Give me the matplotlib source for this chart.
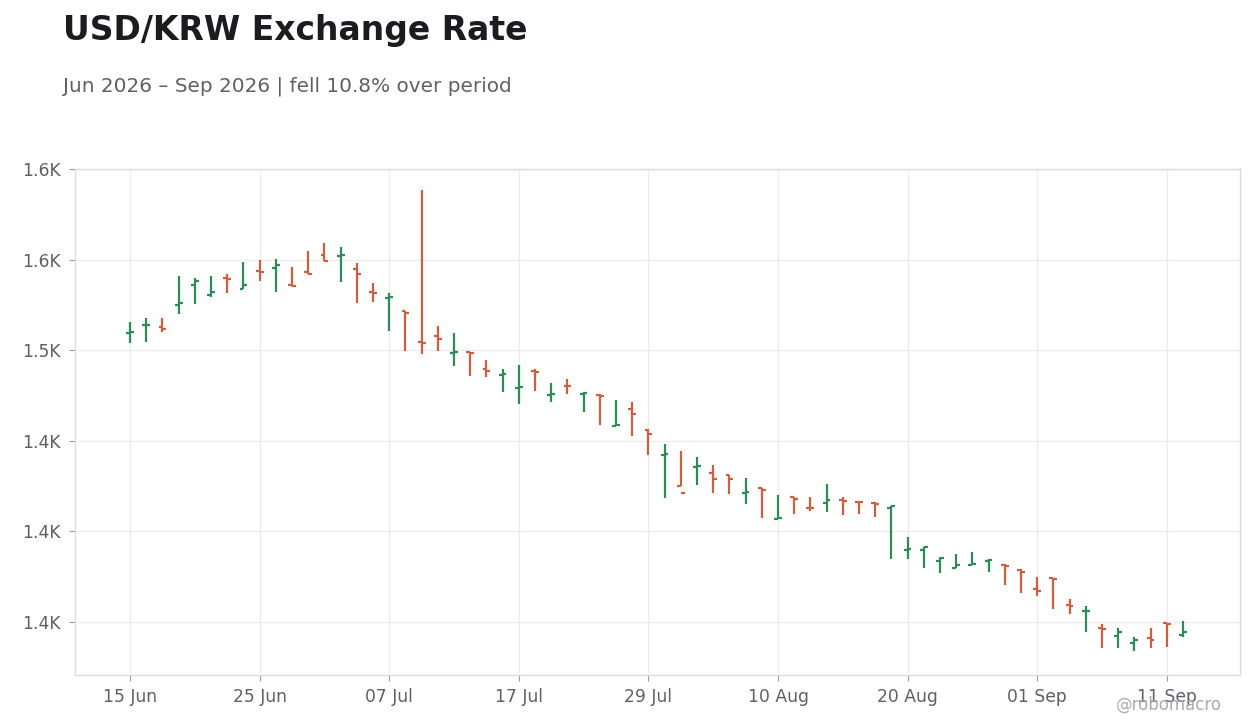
import numpy as np
import pandas as pd
import matplotlib
matplotlib.use("Agg")
import matplotlib.pyplot as plt
import matplotlib.ticker as mtick

# daily OHLC, business days from 15 Jun 2026
dates = pd.bdate_range("2026-06-15", periods=66)

opens = [1509.8, 1513.8, 1512.9, 1525.0, 1535.9, 1530.4, 1540.1, 1533.7, 1543.8, 1545.5,
         1536.0, 1543.3, 1552.7, 1552.1, 1544.9, 1532.2, 1528.9, 1521.7, 1504.6, 1507.9,
         1498.5, 1499.0, 1489.7, 1486.5, 1479.4, 1488.6, 1475.5, 1480.5, 1476.0, 1475.3,
         1458.0, 1467.6, 1456.0, 1442.2, 1425.0, 1435.4, 1432.2, 1431.1, 1421.1, 1424.1,
         1407.0, 1419.0, 1413.1, 1415.6, 1417.4, 1416.4, 1415.9, 1412.9, 1389.7, 1389.9,
         1383.6, 1379.6, 1381.6, 1383.8, 1381.6, 1378.9, 1368.1, 1374.2, 1359.3, 1355.8,
         1346.4, 1342.5, 1338.2, 1341.3, 1349.3, 1342.7]
highs = [1515.5, 1517.7, 1517.7, 1540.9, 1540.3, 1541.4, 1542.0, 1548.6, 1549.7, 1550.3,
         1545.9, 1555.2, 1559.1, 1556.9, 1548.1, 1537.0, 1532.0, 1521.7, 1588.4, 1513.3,
         1509.4, 1499.3, 1494.5, 1489.5, 1491.7, 1489.5, 1481.8, 1484.5, 1477.2, 1475.9,
         1472.4, 1471.3, 1456.7, 1448.1, 1444.7, 1441.4, 1436.5, 1431.1, 1429.8, 1424.1,
         1419.9, 1419.2, 1418.8, 1426.0, 1419.3, 1416.6, 1416.2, 1414.0, 1397.2, 1391.3,
         1386.0, 1387.3, 1388.4, 1385.0, 1381.9, 1379.4, 1375.1, 1374.4, 1362.8, 1358.6,
         1349.0, 1346.7, 1341.9, 1346.7, 1349.3, 1350.3]
lows = [1504.0, 1504.6, 1510.1, 1519.9, 1525.4, 1529.8, 1531.5, 1533.7, 1538.3, 1532.2,
        1535.5, 1542.0, 1549.3, 1537.7, 1526.1, 1526.7, 1510.7, 1499.6, 1497.8, 1499.6,
        1491.3, 1485.8, 1485.2, 1477.0, 1470.5, 1477.5, 1471.4, 1475.9, 1465.9, 1458.7,
        1458.0, 1452.6, 1442.2, 1418.4, 1425.0, 1425.5, 1421.1, 1420.6, 1415.1, 1407.3,
        1407.0, 1409.5, 1411.2, 1410.6, 1409.0, 1409.5, 1407.9, 1384.7, 1384.7, 1379.7,
        1377.0, 1379.6, 1381.5, 1377.4, 1370.3, 1366.0, 1364.2, 1357.1, 1354.3, 1344.4,
        1335.5, 1335.5, 1333.9, 1335.5, 1336.0, 1341.6]
closes = [1510.3, 1514.2, 1511.6, 1526.1, 1538.3, 1532.2, 1539.7, 1536.1, 1543.3, 1547.1,
          1535.6, 1542.0, 1549.3, 1552.7, 1542.5, 1531.7, 1529.3, 1520.6, 1503.9, 1506.6,
          1498.9, 1498.6, 1488.6, 1486.9, 1479.9, 1488.0, 1476.1, 1480.1, 1476.4, 1474.8,
          1458.7, 1464.8, 1453.8, 1442.6, 1421.1, 1436.0, 1428.9, 1428.9, 1421.7, 1422.7,
          1407.3, 1417.8, 1412.7, 1417.2, 1417.0, 1416.0, 1415.1, 1414.0, 1390.1, 1391.3,
          1385.6, 1381.3, 1381.9, 1384.5, 1380.7, 1377.8, 1367.0, 1373.6, 1358.9, 1356.2,
          1345.9, 1344.4, 1339.9, 1339.9, 1348.7, 1344.5]

UP = "#2e8b57"
DOWN = "#cc5f3f"

fig = plt.figure(figsize=(12.6, 7.28), dpi=100)
ax = fig.add_axes([0.0595, 0.0728, 0.9246, 0.6957])

x = np.arange(len(dates))
o = np.array(opens)
c = np.array(closes)
colors = [UP if cc >= oo else DOWN for oo, cc in zip(o, c)]

tw = 0.24
ax.vlines(x, lows, highs, colors=colors, lw=1.6, zorder=3)
ax.hlines(o, x - tw, x, colors=colors, lw=1.6, zorder=3)
ax.hlines(c, x, x + tw, colors=colors, lw=1.6, zorder=3)

ax.set_xlim(-3.4, 68.52)
ax.set_ylim(1320.7, 1600.5)

ax.set_yticks([1350, 1400, 1450, 1500, 1550, 1600])
ax.yaxis.set_major_formatter(mtick.FuncFormatter(lambda v, p: "{:.1f}K".format(v / 1000)))
ticks = x[::8]
ax.set_xticks(ticks)
ax.set_xticklabels([dates[i].strftime("%d %b") for i in ticks])

ax.grid(True, color="#ececf0", lw=0.9, zorder=0)
for s in ax.spines.values():
  s.set_color("#dcdce0")
  s.set_linewidth(1.0)
ax.tick_params(axis="both", colors="#9a9aa0", labelcolor="#5f5f66", labelsize=12.3, length=4, width=0.8)
ax.tick_params(axis="y", pad=6)
ax.tick_params(axis="x", pad=5)

fig.text(0.05, 0.958, "USD/KRW Exchange Rate", fontsize=23.8, fontweight="bold",
         color="#1c1c20", va="center", ha="left")
fig.text(0.05, 0.882, "Jun 2026 \u2013 Sep 2026 | fell 10.8% over period", fontsize=14.4,
         color="#5f6066", va="center", ha="left")
fig.text(0.97, 0.032, "@robomacro", fontsize=12, color="#aaaab0", ha="right", va="center")

fig.savefig("out.png", dpi=100, facecolor="white")
